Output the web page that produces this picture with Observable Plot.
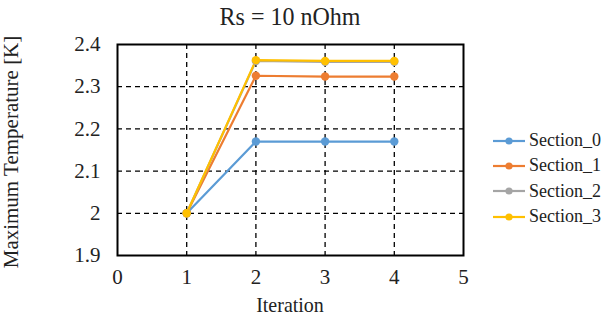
<!DOCTYPE html>
<html>
<head>
<meta charset="utf-8">
<script src="https://cdn.jsdelivr.net/npm/d3@7"></script>
<script src="https://cdn.jsdelivr.net/npm/@observablehq/plot@0.6"></script>
<style>
  body { margin: 0; background: #fff; font-family: "Liberation Serif", "Times New Roman", serif; }
  #wrap { position: relative; width: 603px; height: 320px; overflow: hidden; }
  #title { position: absolute; left: 117px; width: 346px; top: 3px; text-align: center; font-size: 24px; color: #222; transform: scaleY(1.08); }
  #ylab { position: absolute; left: 11px; top: 152px; transform: translate(-50%, -50%) rotate(-90deg); white-space: nowrap; font-size: 21px; color: #222; }
  #xlab { position: absolute; left: 290px; top: 305px; transform: translate(-50%, -50%) scaleY(1.1); font-size: 20px; color: #222; }
  #legend { position: absolute; left: 492px; top: 128px; }
  .li { display: flex; align-items: center; height: 25.3px; font-size: 18px; color: #222; white-space: nowrap; }
  .li svg { margin-right: 3px; }
  #chart { position: absolute; left: 0; top: 0; }
</style>
</head>
<body>
<div id="wrap">
  <div id="chart"></div>
  <div id="title"></div>
  <div id="ylab"></div>
  <div id="xlab"></div>
  <div id="legend"></div>
</div>
<script>
const titleText = "Rs = 10 nOhm";
const xLabel = "Iteration";
const yLabel = "Maximum Temperature [K]";
const iterations = [1, 2, 3, 4];
const seriesNames = ["Section_0", "Section_1", "Section_2", "Section_3"];
const section0 = [2.0, 2.17, 2.17, 2.17];
const section1 = [2.0, 2.326, 2.324, 2.324];
const section2 = [2.0, 2.361, 2.359, 2.359];
const section3 = [2.0, 2.363, 2.361, 2.361];
const colors = ["#5B9BD5", "#ED7D31", "#A5A5A5", "#FFC000"];
const xTicks = [0, 1, 2, 3, 4, 5];
const yTicks = [1.9, 2.0, 2.1, 2.2, 2.3, 2.4];
const yTickLabels = ["1.9", "2", "2.1", "2.2", "2.3", "2.4"];

const allSeries = [section0, section1, section2, section3];
const data = [];
allSeries.forEach((vals, si) => {
  vals.forEach((v, i) => data.push({ series: seriesNames[si], iteration: iterations[i], value: v }));
});

const font = '"Liberation Serif", "Times New Roman", serif';
const plot = Plot.plot({
  width: 603,
  height: 320,
  marginLeft: 117,
  marginRight: 140,
  marginTop: 44,
  marginBottom: 65,
  style: { fontFamily: font, background: "transparent", color: "#222" },
  x: { domain: [0, 5] },
  y: { domain: [1.9, 2.4] },
  color: { domain: seriesNames, range: colors },
  marks: [
    Plot.ruleX([1, 2, 3, 4], { stroke: "#000", strokeWidth: 1.3, strokeDasharray: "5,4" }),
    Plot.ruleY([2.0, 2.1, 2.2, 2.3], { stroke: "#000", strokeWidth: 1.3, strokeDasharray: "5,4" }),
    Plot.axisX(xTicks, { tickSize: 0, tickPadding: 14, fontSize: 21, label: null }),
    Plot.axisY(yTicks, { tickSize: 0, tickPadding: 17, fontSize: 21, label: null,
      tickFormat: (d) => yTickLabels[yTicks.indexOf(d)] }),
    Plot.line(data, { x: "iteration", y: "value", z: "series", stroke: "series", strokeWidth: 2.2 }),
    Plot.dot(data, { x: "iteration", y: "value", fill: "series", r: 4.2 }),
    Plot.frame({ stroke: "#000", strokeWidth: 2 })
  ]
});
document.getElementById("chart").appendChild(plot);
document.getElementById("title").textContent = titleText;
document.getElementById("ylab").textContent = yLabel;
document.getElementById("xlab").textContent = xLabel;

const legend = document.getElementById("legend");
seriesNames.forEach((name, i) => {
  const row = document.createElement("div");
  row.className = "li";
  row.innerHTML = `<svg width="34" height="10"><line x1="1" y1="5" x2="33" y2="5" stroke="${colors[i]}" stroke-width="2.2"/><circle cx="17" cy="5" r="3.6" fill="${colors[i]}"/></svg><span></span>`;
  row.querySelector("span").textContent = name;
  legend.appendChild(row);
});
</script>
</body>
</html>
